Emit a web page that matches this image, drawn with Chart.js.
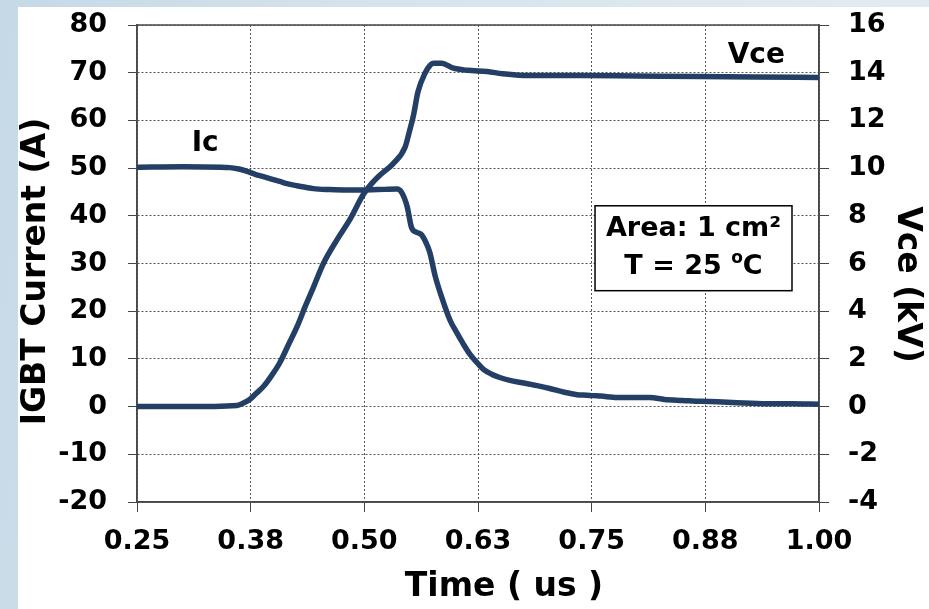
<!DOCTYPE html>
<html>
<head>
<meta charset="utf-8">
<script src="https://cdn.jsdelivr.net/npm/chart.js@4.4.0/dist/chart.umd.min.js"></script>
<style>
  html, body { margin: 0; padding: 0; }
  body {
    width: 929px; height: 609px; overflow: hidden; position: relative;
    background: linear-gradient(100deg, #c6d9e7 0%, #d8e5ee 45%, #e4ecf2 100%);
  }
  #card { position: absolute; left: 18px; top: 7px; width: 911px; height: 602px; background: #fff; }
</style>
</head>
<body>
<div id="card"><canvas id="chart" width="911" height="602"></canvas></div>
<script>
// Ic waveform: time (us) / current (A)
const icTime = [0.25, 0.30, 0.352, 0.362, 0.371, 0.38, 0.389, 0.398, 0.407, 0.416, 0.426, 0.435, 0.444, 0.462, 0.48, 0.495, 0.515, 0.536, 0.541, 0.547, 0.552, 0.558, 0.563, 0.568, 0.572, 0.578, 0.585, 0.594, 0.601, 0.608, 0.616, 0.624, 0.631, 0.64, 0.649, 0.66, 0.674, 0.69, 0.704, 0.72, 0.734, 0.745, 0.751, 0.76, 0.778, 0.795, 0.814, 0.83, 0.85, 0.87, 0.888, 0.91, 0.943, 0.97, 1.0];
const icAmps = [50.2, 50.3, 50.1, 49.8, 49.3, 48.7, 48.2, 47.7, 47.2, 46.7, 46.3, 46.0, 45.7, 45.5, 45.4, 45.4, 45.5, 45.6, 44.9, 42.0, 37.5, 36.5, 36.0, 34.3, 32.3, 27.3, 23.0, 18.2, 15.7, 13.4, 11.0, 9.2, 7.8, 6.8, 6.1, 5.5, 5.0, 4.4, 3.8, 3.0, 2.5, 2.4, 2.3, 2.2, 1.9, 1.9, 1.9, 1.5, 1.3, 1.1, 1.0, 0.8, 0.6, 0.6, 0.5];

// Vce waveform: time (us) / voltage (kV)
const vceTime = [0.25, 0.30, 0.36, 0.367, 0.374, 0.381, 0.389, 0.398, 0.407, 0.416, 0.426, 0.435, 0.444, 0.455, 0.47, 0.484, 0.499, 0.508, 0.517, 0.532, 0.545, 0.55, 0.554, 0.559, 0.567, 0.572, 0.576, 0.585, 0.597, 0.613, 0.635, 0.652, 0.682, 0.737, 0.8, 0.869, 0.93, 1.0];
const vceKv = [0.0, 0.0, 0.05, 0.15, 0.3, 0.55, 0.84, 1.3, 1.84, 2.55, 3.35, 4.2, 5.0, 6.0, 7.0, 7.84, 8.9, 9.35, 9.7, 10.2, 10.9, 11.6, 12.2, 13.2, 14.0, 14.3, 14.4, 14.4, 14.2, 14.1, 14.05, 13.96, 13.88, 13.88, 13.86, 13.84, 13.82, 13.8];

const xTickLabels = ['0.25', '0.38', '0.50', '0.63', '0.75', '0.88', '1.00'];

const FONT = '"DejaVu Sans", "Liberation Sans", Arial, sans-serif';
const LINE_COLOR = '#243f66';
const GRID_COLOR = '#555';

// Cadru solid in jurul zonei de grafic
const framePlugin = {
    id: 'frame',
    beforeDatasetsDraw(chart) {
        const { ctx, chartArea: a } = chart;
        ctx.save();
        ctx.strokeStyle = '#4a4a4a';
        ctx.lineWidth = 1.5;
        ctx.strokeRect(a.left, a.top, a.right - a.left, a.bottom - a.top);
        ctx.restore();
    }
};

// Titlurile de axa (asezate putin descentrat, ca in original)
const axisTitlesPlugin = {
    id: 'axisTitles',
    afterDraw(chart) {
        const { ctx, chartArea: a } = chart;
        const midY = (a.top + a.bottom) / 2;
        ctx.save();
        ctx.fillStyle = '#000';
        ctx.font = 'bold 33px ' + FONT;
        ctx.textAlign = 'center';
        ctx.textBaseline = 'alphabetic';
        ctx.fillText('Time ( us )', (a.left + a.right) / 2 + 26, chart.height - 13);

        ctx.textBaseline = 'middle';
        ctx.save();
        ctx.translate(18, midY + 8);
        ctx.rotate(-Math.PI / 2);
        ctx.fillText('IGBT Current (A)', 0, 0);
        ctx.restore();

        ctx.translate(chart.width - 22, midY + 21);
        ctx.rotate(Math.PI / 2);
        ctx.fillText('Vce (kV)', 0, 0);
        ctx.restore();
    }
};

// Etichete pe curbe si caseta cu conditiile de test
const notesPlugin = {
    id: 'notes',
    afterDatasetsDraw(chart) {
        const { ctx } = chart;
        const x = chart.scales.x, y = chart.scales.y;
        ctx.save();
        ctx.fillStyle = '#000';
        ctx.textAlign = 'center';
        ctx.textBaseline = 'middle';
        ctx.font = 'bold 28px ' + FONT;
        ctx.fillText('Ic', x.getPixelForValue(0.325), y.getPixelForValue(55.1));
        ctx.fillText('Vce', x.getPixelForValue(0.931), y.getPixelForValue(73.6));

        // caseta
        const l = x.getPixelForValue(0.7537), r = x.getPixelForValue(0.9703);
        const t = y.getPixelForValue(42.1), b = y.getPixelForValue(24.3);
        ctx.fillStyle = '#fff';
        ctx.fillRect(l, t, r - l, b - t);
        ctx.strokeStyle = '#000';
        ctx.lineWidth = 1.5;
        ctx.strokeRect(l, t, r - l, b - t);

        const cx = (l + r) / 2;
        ctx.fillStyle = '#000';
        ctx.font = 'bold 27px ' + FONT;
        ctx.fillText('Area: 1 cm²', cx, y.getPixelForValue(37.3));

        // T = 25 oC, cu "o" ridicat
        const ly = y.getPixelForValue(29.35);
        const p1 = 'T = 25 ', p3 = 'C';
        ctx.font = 'bold 27px ' + FONT;
        const w1 = ctx.measureText(p1).width, w3 = ctx.measureText(p3).width;
        ctx.font = 'bold 17px ' + FONT;
        const w2 = ctx.measureText('o').width;
        const sx = cx - (w1 + w2 + w3) / 2;
        ctx.textAlign = 'left';
        ctx.font = 'bold 27px ' + FONT;
        ctx.fillText(p1, sx, ly);
        ctx.font = 'bold 17px ' + FONT;
        ctx.fillText('o', sx + w1, ly - 8);
        ctx.font = 'bold 27px ' + FONT;
        ctx.fillText(p3, sx + w1 + w2, ly);
        ctx.restore();
    }
};

const tickFont = { family: FONT, size: 27, weight: 'bold' };

// latimea fixa a axelor verticale si spatiul de sus
const fitVertical = width => s => {
    s.width = width;
    s.paddingTop = 18;
    s.paddingBottom = 0;
};

new Chart(document.getElementById('chart').getContext('2d'), {
    type: 'line',
    data: {
        datasets: [{
            label: 'Ic',
            data: icTime.map((t, i) => ({ x: t, y: icAmps[i] })),
            yAxisID: 'y',
            borderColor: LINE_COLOR,
            borderWidth: 5.5,
            pointRadius: 0,
            cubicInterpolationMode: 'monotone'
        }, {
            label: 'Vce',
            data: vceTime.map((t, i) => ({ x: t, y: vceKv[i] })),
            yAxisID: 'y2',
            borderColor: LINE_COLOR,
            borderWidth: 5.5,
            pointRadius: 0,
            cubicInterpolationMode: 'monotone'
        }]
    },
    options: {
        responsive: false,
        animation: false,
        layout: { padding: 0 },
        plugins: { legend: { display: false }, tooltip: { enabled: false } },
        scales: {
            x: {
                type: 'linear', min: 0.25, max: 1.0,
                ticks: {
                    stepSize: 0.125, color: '#000', font: tickFont, padding: 14,
                    maxRotation: 0, autoSkip: false,
                    callback: (v, i) => xTickLabels[i]
                },
                grid: { color: GRID_COLOR, lineWidth: 1, tickLength: 10, tickColor: '#444', tickBorderDash: [] },
                border: { display: true, color: '#444', width: 1.5, dash: [2, 2] },
                title: { display: false },
                afterFit: s => { s.height = 107; }
            },
            y: {
                position: 'left', min: -20, max: 80,
                ticks: { stepSize: 10, color: '#000', font: tickFont, padding: 21 },
                grid: { color: GRID_COLOR, lineWidth: 1, tickLength: 9, tickColor: '#444', tickBorderDash: [] },
                border: { display: true, color: '#444', width: 1.5, dash: [2, 2] },
                title: { display: false },
                afterFit: fitVertical(119)
            },
            y2: {
                position: 'right', min: -4, max: 16,
                ticks: { stepSize: 2, color: '#000', font: tickFont, padding: 19 },
                grid: { drawOnChartArea: false, tickLength: 10, tickColor: '#444' },
                border: { display: true, color: '#444', width: 1.5 },
                title: { display: false },
                afterFit: fitVertical(110)
            }
        }
    },
    plugins: [framePlugin, notesPlugin, axisTitlesPlugin]
});
</script>
</body>
</html>
